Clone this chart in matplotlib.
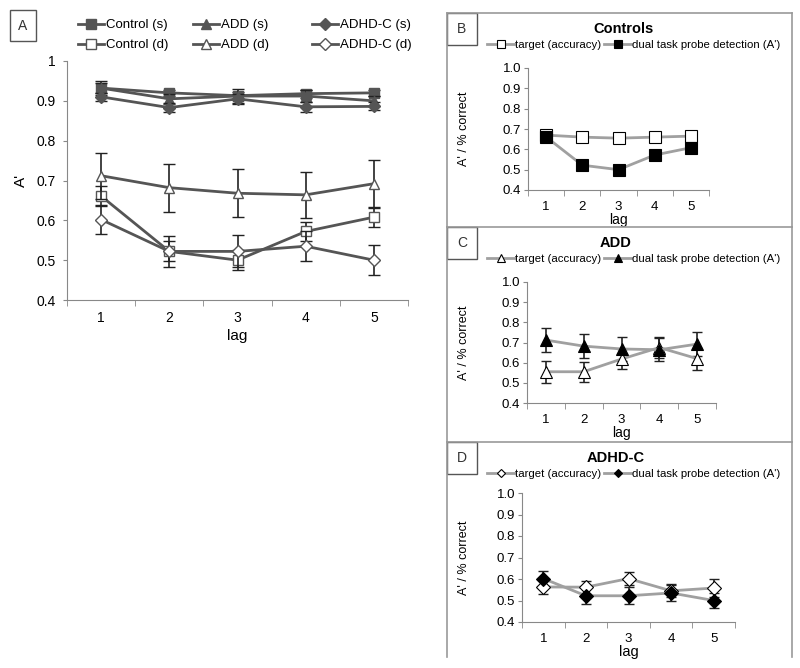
import matplotlib.pyplot as plt
from matplotlib.patches import Rectangle
from matplotlib.lines import Line2D
import numpy as np

plt.rcParams['font.family'] = ['Liberation Sans', 'DejaVu Sans']

lags = [1, 2, 3, 4, 5]

# panel A: single (s) and dual (d) task, A'
ctrl_s = [0.932, 0.920, 0.913, 0.918, 0.920]
ctrl_s_err = [0.018, 0.008, 0.010, 0.010, 0.008]
add_s = [0.932, 0.905, 0.912, 0.912, 0.900]
add_s_err = [0.012, 0.012, 0.018, 0.015, 0.012]
adhd_s = [0.910, 0.883, 0.905, 0.885, 0.886]
adhd_s_err = [0.010, 0.012, 0.012, 0.012, 0.010]
ctrl_d = [0.661, 0.522, 0.500, 0.572, 0.608]
ctrl_d_err = [0.025, 0.025, 0.025, 0.025, 0.025]
add_d = [0.712, 0.682, 0.668, 0.664, 0.692]
add_d_err = [0.058, 0.060, 0.060, 0.058, 0.060]
adhd_d = [0.602, 0.522, 0.522, 0.535, 0.500]
adhd_d_err = [0.037, 0.038, 0.040, 0.037, 0.037]

# panels B-D: target accuracy vs dual task probe detection
ctrl_target = [0.670, 0.660, 0.655, 0.660, 0.665]
ctrl_target_err = [0.012, 0.012, 0.012, 0.012, 0.012]
add_target = [0.555, 0.555, 0.618, 0.675, 0.620]
add_target_err = [0.055, 0.050, 0.048, 0.050, 0.055]
adhd_target = [0.563, 0.562, 0.602, 0.545, 0.558]
adhd_target_err = [0.035, 0.030, 0.030, 0.030, 0.040]

W, H = 800, 668
fig = plt.figure(figsize=(W / 100, H / 100), dpi=100)


def fx(x):
    return x / W


def fy(y):
    return (H - y) / H


def px_axes(left, top, right, bottom):
    return fig.add_axes([fx(left), fy(bottom), (right - left) / W, (bottom - top) / H])


def style_axes(ax, fs, ypad):
    ax.set_xlim(0.5, 5.5)
    ax.set_ylim(0.4, 1.0)
    ax.set_xticks(lags)
    ax.set_xticklabels([str(l) for l in lags], fontsize=fs)
    ax.set_xticks(np.arange(0.5, 5.6, 1.0), minor=True)
    ax.tick_params(axis='x', which='major', length=0, pad=8)
    ax.tick_params(axis='x', which='minor', length=4, color='#888888')
    ax.tick_params(axis='y', length=3, color='#888888', pad=ypad, labelsize=fs)
    for s in ['top', 'right']:
        ax.spines[s].set_visible(False)
    for s in ['left', 'bottom']:
        ax.spines[s].set_color('#888888')
    ax.patch.set_alpha(0)


def label_box(x0, y0, x1, y1, txt):
    fig.patches.append(Rectangle((fx(x0), fy(y1)), (x1 - x0) / W, (y1 - y0) / H,
                                 transform=fig.transFigure, fill=False, ec='#555555', lw=1))
    fig.text(fx((x0 + x1) / 2), fy((y0 + y1) / 2), txt, ha='center', va='center',
             fontsize=10, color='#333333')


# ---- panel A ----
axA = px_axes(67, 61, 408, 300)
style_axes(axA, 10, 5)
axA.set_yticks(np.arange(0.4, 1.01, 0.1))
axA.set_yticklabels(['0.4', '0.5', '0.6', '0.7', '0.8', '0.9', '1'])
dark = '#555555'
seriesA = [
    (ctrl_s, ctrl_s_err, 's', dark, 'Control (s)'),
    (ctrl_d, ctrl_d_err, 's', 'white', 'Control (d)'),
    (add_s, add_s_err, '^', dark, 'ADD (s)'),
    (add_d, add_d_err, '^', 'white', 'ADD (d)'),
    (adhd_s, adhd_s_err, 'D', dark, 'ADHD-C (s)'),
    (adhd_d, adhd_d_err, 'D', 'white', 'ADHD-C (d)'),
]
handles = []
for vals, err, mk, fc, lab in seriesA:
    axA.errorbar(lags, vals, yerr=err, fmt='none', ecolor='#222222', elinewidth=1.2, capsize=4)
    ms = 6 if mk == 'D' else 7
    h, = axA.plot(lags, vals, color=dark, lw=2, marker=mk, ms=ms, mfc=fc, mec=dark, mew=1, label=lab)
    handles.append(h)
axA.set_xlabel('lag', fontsize=11, labelpad=3)
axA.set_ylabel("A'", fontsize=11, labelpad=6)
for i, x0 in enumerate([78, 193, 312]):
    fig.legend(handles=handles[2 * i:2 * i + 2], loc='upper left',
               bbox_to_anchor=(fx(x0), fy(19)), frameon=False, fontsize=9.5,
               handlelength=2.0, handletextpad=0.1, labelspacing=0.6,
               borderpad=0, borderaxespad=0, markerscale=1.0)
label_box(10, 10, 36, 41, 'A')

# ---- panels B-D ----
light = '#a0a0a0'
panels = [
    ('B', 'Controls', 623, 13, 227, (528, 68, 709, 190), 's', ctrl_target, ctrl_target_err, ctrl_d, ctrl_d_err, 8),
    ('C', 'ADD', 616, 227, 442, (527, 282, 716, 403), '^', add_target, add_target_err, add_d, add_d_err, 8),
    ('D', 'ADHD-C', 616, 442, 657, (522, 493, 735, 622), 'D', adhd_target, adhd_target_err, adhd_d, adhd_d_err, 7),
]
for letter, title, tx, ytop, ybot, box, mk, tv, te, dv, de, ms in panels:
    for xs, ys in [([447, 792], [ytop, ytop]), ([447, 447], [ytop, ybot]), ([792, 792], [ytop, ybot])]:
        fig.lines.append(Line2D([fx(v) for v in xs], [fy(v) for v in ys], transform=fig.transFigure,
                                color='#999999', lw=1.2))
    label_box(447, ytop, 477, ytop + 32, letter)
    ax = px_axes(*box)
    style_axes(ax, 9.5, 2)
    ax.set_yticks(np.arange(0.4, 1.01, 0.1))
    ax.set_yticklabels(['{:.1f}'.format(v) for v in np.arange(0.4, 1.01, 0.1)])
    ax.errorbar(lags, tv, yerr=te, fmt='none', ecolor='#222222', elinewidth=1.2, capsize=3.5)
    ax.errorbar(lags, dv, yerr=de, fmt='none', ecolor='#222222', elinewidth=1.2, capsize=3.5)
    h1, = ax.plot(lags, tv, color=light, lw=2, marker=mk, ms=ms, mfc='white', mec='black', mew=0.8,
                  label='target (accuracy)')
    h2, = ax.plot(lags, dv, color=light, lw=2, marker=mk, ms=ms, mfc='black', mec='black', mew=0.8,
                  label="dual task probe detection (A')")
    ax.set_xlabel('lag', fontsize=10.5 if letter == 'D' else 10, labelpad=0)
    ax.set_ylabel("A' / % correct", fontsize=9)
    ax.yaxis.set_label_coords((470 - box[0]) / (box[2] - box[0]), 0.5)
    fig.text(fx(tx), fy(ytop + 16), title, ha='center', va='center', fontsize=10.5,
             fontweight='bold')
    fig.legend(handles=[h1, h2], loc='upper left', bbox_to_anchor=(fx(487), fy(ytop + 27)),
               ncol=2, frameon=False, fontsize=8.2, handlelength=2.4, handletextpad=0.1,
               columnspacing=0.2, markerscale=0.65, borderpad=0, borderaxespad=0)

fig.savefig('out.png', dpi=100)
